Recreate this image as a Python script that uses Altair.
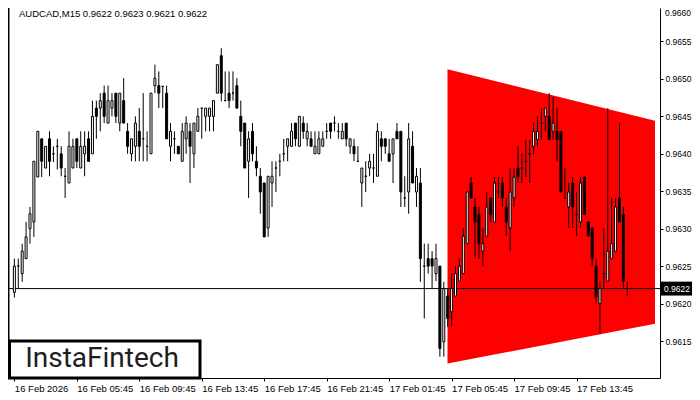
import altair as alt
import pandas as pd
import numpy as np

# ---- candle data (AUDCAD M15) ----
opens = [
    0.96215, 0.96250, 0.96240, 0.96260, 0.96300, 0.96309, 0.96369, 0.96420, 0.96381, 0.96420,
    0.96400, 0.96410, 0.96400, 0.96370, 0.96361, 0.96381, 0.96420, 0.96381, 0.96400, 0.96420,
    0.96400, 0.96461, 0.96461, 0.96481, 0.96441, 0.96461, 0.96481, 0.96441, 0.96471, 0.96430,
    0.96400, 0.96410, 0.96430, 0.96420, 0.96410, 0.96400, 0.96491, 0.96491, 0.96490, 0.96481,
    0.96410, 0.96420, 0.96410, 0.96390, 0.96420, 0.96430, 0.96400, 0.96430, 0.96461, 0.96450,
    0.96450, 0.96450, 0.96481, 0.96531, 0.96471, 0.96481, 0.96481, 0.96491, 0.96450, 0.96441,
    0.96390, 0.96430, 0.96390, 0.96370, 0.96361, 0.96301, 0.96361, 0.96381, 0.96390, 0.96400,
    0.96410, 0.96410, 0.96441, 0.96410, 0.96441, 0.96420, 0.96420, 0.96400, 0.96400, 0.96410,
    0.96430, 0.96441, 0.96441, 0.96430, 0.96420, 0.96441, 0.96410, 0.96410, 0.96390, 0.96361,
    0.96370, 0.96381, 0.96381, 0.96370, 0.96420, 0.96420, 0.96400, 0.96400, 0.96430, 0.96430,
    0.96341, 0.96349, 0.96410, 0.96349, 0.96361, 0.96250, 0.96260, 0.96260, 0.96240, 0.96250,
    0.96149, 0.96210, 0.96189, 0.96210, 0.96230, 0.96240, 0.96280, 0.96361, 0.96329, 0.96319,
    0.96270, 0.96290, 0.96341, 0.96309, 0.96349, 0.96361, 0.96329, 0.96301, 0.96341, 0.96381,
    0.96381, 0.96390, 0.96400, 0.96410, 0.96419, 0.96441, 0.96450, 0.96450, 0.96430, 0.96430,
    0.96430, 0.96341, 0.96329, 0.96361, 0.96319, 0.96309, 0.96369, 0.96309, 0.96301, 0.96250,
    0.96200, 0.96240, 0.96230, 0.96260, 0.96270, 0.96341, 0.96319, 0.96220,
]
highs = [
    0.96260, 0.96260, 0.96280, 0.96309, 0.96329, 0.96390, 0.96430, 0.96420, 0.96410, 0.96430,
    0.96410, 0.96420, 0.96410, 0.96381, 0.96430, 0.96420, 0.96420, 0.96430, 0.96430, 0.96430,
    0.96471, 0.96471, 0.96481, 0.96491, 0.96491, 0.96481, 0.96481, 0.96481, 0.96501, 0.96441,
    0.96420, 0.96450, 0.96461, 0.96481, 0.96430, 0.96481, 0.96519, 0.96510, 0.96490, 0.96491,
    0.96441, 0.96430, 0.96410, 0.96441, 0.96450, 0.96441, 0.96441, 0.96461, 0.96461, 0.96461,
    0.96461, 0.96471, 0.96519, 0.96541, 0.96510, 0.96510, 0.96510, 0.96501, 0.96471, 0.96441,
    0.96430, 0.96441, 0.96410, 0.96381, 0.96361, 0.96370, 0.96390, 0.96390, 0.96400, 0.96420,
    0.96420, 0.96441, 0.96441, 0.96450, 0.96450, 0.96441, 0.96430, 0.96430, 0.96430, 0.96430,
    0.96441, 0.96441, 0.96450, 0.96441, 0.96441, 0.96441, 0.96420, 0.96420, 0.96410, 0.96381,
    0.96390, 0.96400, 0.96400, 0.96441, 0.96430, 0.96420, 0.96420, 0.96420, 0.96441, 0.96430,
    0.96370, 0.96441, 0.96430, 0.96381, 0.96381, 0.96280, 0.96280, 0.96270, 0.96280, 0.96250,
    0.96229, 0.96220, 0.96240, 0.96250, 0.96260, 0.96301, 0.96349, 0.96369, 0.96341, 0.96329,
    0.96301, 0.96349, 0.96341, 0.96369, 0.96369, 0.96369, 0.96341, 0.96381, 0.96381, 0.96410,
    0.96401, 0.96419, 0.96419, 0.96441, 0.96450, 0.96461, 0.96461, 0.96481, 0.96476, 0.96461,
    0.96430, 0.96381, 0.96361, 0.96369, 0.96349, 0.96369, 0.96369, 0.96309, 0.96301, 0.96260,
    0.96230, 0.96301, 0.96461, 0.96341, 0.96341, 0.96441, 0.96329, 0.96230,
]
lows = [
    0.96208, 0.96220, 0.96229, 0.96260, 0.96280, 0.96289, 0.96369, 0.96369, 0.96381, 0.96370,
    0.96389, 0.96379, 0.96370, 0.96341, 0.96361, 0.96381, 0.96381, 0.96381, 0.96370, 0.96390,
    0.96400, 0.96420, 0.96430, 0.96441, 0.96441, 0.96450, 0.96441, 0.96430, 0.96441, 0.96400,
    0.96390, 0.96390, 0.96390, 0.96390, 0.96390, 0.96400, 0.96481, 0.96461, 0.96461, 0.96420,
    0.96390, 0.96400, 0.96400, 0.96390, 0.96400, 0.96361, 0.96381, 0.96430, 0.96420, 0.96430,
    0.96430, 0.96430, 0.96481, 0.96470, 0.96471, 0.96461, 0.96471, 0.96461, 0.96410, 0.96381,
    0.96341, 0.96390, 0.96370, 0.96320, 0.96289, 0.96289, 0.96329, 0.96349, 0.96370, 0.96390,
    0.96390, 0.96410, 0.96410, 0.96410, 0.96420, 0.96410, 0.96410, 0.96400, 0.96400, 0.96410,
    0.96420, 0.96420, 0.96430, 0.96420, 0.96420, 0.96410, 0.96400, 0.96390, 0.96390, 0.96329,
    0.96349, 0.96370, 0.96361, 0.96370, 0.96390, 0.96400, 0.96390, 0.96361, 0.96420, 0.96329,
    0.96329, 0.96320, 0.96361, 0.96329, 0.96229, 0.96180, 0.96240, 0.96220, 0.96230, 0.96129,
    0.96129, 0.96169, 0.96169, 0.96210, 0.96230, 0.96240, 0.96280, 0.96341, 0.96260, 0.96260,
    0.96250, 0.96290, 0.96309, 0.96309, 0.96341, 0.96329, 0.96290, 0.96270, 0.96329, 0.96361,
    0.96361, 0.96369, 0.96361, 0.96399, 0.96410, 0.96419, 0.96430, 0.96419, 0.96419, 0.96390,
    0.96349, 0.96341, 0.96301, 0.96301, 0.96290, 0.96301, 0.96319, 0.96290, 0.96250, 0.96200,
    0.96160, 0.96220, 0.96230, 0.96260, 0.96270, 0.96309, 0.96220, 0.96210,
]
closes = [
    0.96250, 0.96250, 0.96270, 0.96289, 0.96320, 0.96390, 0.96430, 0.96390, 0.96410, 0.96390,
    0.96400, 0.96410, 0.96381, 0.96370, 0.96410, 0.96410, 0.96390, 0.96410, 0.96410, 0.96390,
    0.96450, 0.96450, 0.96471, 0.96450, 0.96471, 0.96471, 0.96450, 0.96481, 0.96441, 0.96410,
    0.96420, 0.96441, 0.96410, 0.96420, 0.96410, 0.96481, 0.96501, 0.96481, 0.96490, 0.96420,
    0.96430, 0.96420, 0.96400, 0.96430, 0.96441, 0.96410, 0.96441, 0.96450, 0.96461, 0.96461,
    0.96461, 0.96471, 0.96519, 0.96481, 0.96471, 0.96471, 0.96481, 0.96461, 0.96430, 0.96381,
    0.96420, 0.96400, 0.96381, 0.96349, 0.96289, 0.96370, 0.96370, 0.96381, 0.96390, 0.96400,
    0.96420, 0.96430, 0.96420, 0.96450, 0.96430, 0.96430, 0.96410, 0.96410, 0.96420, 0.96420,
    0.96430, 0.96430, 0.96441, 0.96430, 0.96430, 0.96420, 0.96420, 0.96400, 0.96390, 0.96381,
    0.96370, 0.96390, 0.96381, 0.96430, 0.96410, 0.96410, 0.96390, 0.96420, 0.96420, 0.96349,
    0.96341, 0.96420, 0.96361, 0.96370, 0.96260, 0.96250, 0.96250, 0.96250, 0.96260, 0.96140,
    0.96220, 0.96180, 0.96220, 0.96240, 0.96250, 0.96290, 0.96349, 0.96341, 0.96309, 0.96280,
    0.96280, 0.96329, 0.96319, 0.96361, 0.96349, 0.96341, 0.96309, 0.96349, 0.96369, 0.96369,
    0.96381, 0.96390, 0.96400, 0.96430, 0.96430, 0.96441, 0.96461, 0.96419, 0.96441, 0.96419,
    0.96349, 0.96341, 0.96349, 0.96329, 0.96319, 0.96361, 0.96319, 0.96290, 0.96260, 0.96209,
    0.96220, 0.96240, 0.96270, 0.96280, 0.96329, 0.96309, 0.96230, 0.96220,
]

time_ticks = [0, 16, 32, 48, 64, 80, 96, 112, 128, 144]
time_labels = ["16 Feb 2026", "16 Feb 05:45", "16 Feb 09:45", "16 Feb 13:45",
               "16 Feb 17:45", "16 Feb 21:45", "17 Feb 01:45", "17 Feb 05:45",
               "17 Feb 09:45", "17 Feb 13:45"]
price_ticks = [0.9615, 0.9620, 0.9625, 0.9630, 0.9635, 0.9640, 0.9645, 0.9650, 0.9655]
top_price_label = "0.9660"

# symmetric triangle pattern (bar index, upper line, lower line)
tri_x = [110.95, 164.1]
tri_top = [0.96513, 0.96444]
tri_bottom = [0.96120, 0.96173]

last_price = 0.9622
header = "AUDCAD,M15  0.9622 0.9623 0.9621 0.9622"
logo = "InstaFintech"

n = len(closes)
assert len(opens) == len(highs) == len(lows) == n

df = pd.DataFrame({"i": np.arange(n), "open": opens, "high": highs,
                   "low": lows, "close": closes})
df["dir"] = np.where(df["close"] >= df["open"], "up", "down")

W, H = 652, 370
FONT = "Liberation Sans"
AXFS = 8.5

xscale = alt.Scale(domain=[-0.35, 164.1], nice=False, zero=False)
yscale = alt.Scale(domain=[0.961006, 0.965947], nice=False, zero=False)

expr = "''"
for t, l in reversed(list(zip(time_ticks, time_labels))):
    expr = f"datum.value == {t} ? '{l}' : ({expr})"

xaxis = alt.Axis(values=time_ticks, labelExpr=expr, title=None, grid=False,
                 tickSize=3, labelAlign="left", labelBaseline="top", labelPadding=2,
                 labelFlush=False, labelOverlap=False, labelFontSize=9.5)
yaxis = alt.Axis(orient="right", values=price_ticks, format=".4f", title=None,
                 grid=False, tickSize=3, labelPadding=2, labelOverlap=False,
                 labelFontSize=AXFS)

base = alt.Chart(df)

tri = alt.Chart(pd.DataFrame({"x": tri_x, "top": tri_top, "bottom": tri_bottom})).mark_area(
    color="#ff0000", opacity=1, clip=True
).encode(
    x=alt.X("x:Q", scale=xscale, axis=xaxis),
    y=alt.Y("top:Q", scale=yscale, axis=yaxis),
    y2="bottom:Q",
)

hline = alt.Chart(pd.DataFrame({"p": [last_price]})).mark_rule(
    color="black", strokeWidth=1
).encode(y="p:Q")

wicks = base.mark_rule(color="black", strokeWidth=1, clip=True).encode(
    x="i:Q", y="low:Q", y2="high:Q"
)

bodies = base.mark_bar(width=2, stroke="black", strokeWidth=1, clip=True).encode(
    x="i:Q", y="open:Q", y2="close:Q",
    fill=alt.Fill("dir:N", scale=alt.Scale(domain=["up", "down"], range=["white", "black"]),
                  legend=None),
)

left_line = alt.Chart(pd.DataFrame({"a": [0]})).mark_rule(color="black", strokeWidth=1.5).encode(
    x=alt.value(0.75), y=alt.value(0), y2=alt.value(H)
)

head = alt.Chart(pd.DataFrame({"t": [header]})).mark_text(
    align="left", baseline="top", font=FONT, fontSize=9.5, color="#000000"
).encode(text="t:N", x=alt.value(11), y=alt.value(0.5))

top_label = alt.Chart(pd.DataFrame({"t": [top_price_label]})).mark_text(
    align="left", baseline="top", font=FONT, fontSize=AXFS, color="#000000", clip=False
).encode(text="t:N", x=alt.value(W + 5), y=alt.value(0.5))

logo_box = alt.Chart(pd.DataFrame({"a": [0]})).mark_rect(
    fill="white", stroke="black", strokeWidth=3
).encode(x=alt.value(1.5), x2=alt.value(192), y=alt.value(333), y2=alt.value(H))

logo_text = alt.Chart(pd.DataFrame({"t": [logo]})).mark_text(
    align="center", baseline="middle", font="Roboto", fontSize=28, fontWeight="normal",
    color="#1e1e1e"
).encode(text="t:N", x=alt.value(94), y=alt.value(351))

price_box = alt.Chart(pd.DataFrame({"p1": [last_price + 0.000093],
                                    "p2": [last_price - 0.000093]})).mark_rect(
    color="black", clip=False
).encode(x=alt.value(W + 1), x2=alt.value(W + 32), y="p1:Q", y2="p2:Q")

price_text = alt.Chart(pd.DataFrame({"p": [last_price],
                                     "t": [f"{last_price:.4f}"]})).mark_text(
    align="left", baseline="middle", font=FONT, fontSize=AXFS, color="white", clip=False
).encode(text="t:N", x=alt.value(W + 4), y="p:Q")

chart = alt.layer(
    tri, hline, wicks, bodies, left_line, head, top_label, logo_box, logo_text,
    price_box, price_text
).properties(
    width=W, height=H,
    autosize=alt.AutoSizeParams(type="none"),
    padding={"left": 0, "top": 0, "right": 32, "bottom": 14},
    background="white"
).configure_view(strokeWidth=0).configure_axis(
    labelFont=FONT, labelColor="black",
    domainColor="black", tickColor="black", domainWidth=1
)

chart.save("out.html", embed_options={"renderer": "svg", "actions": False})
